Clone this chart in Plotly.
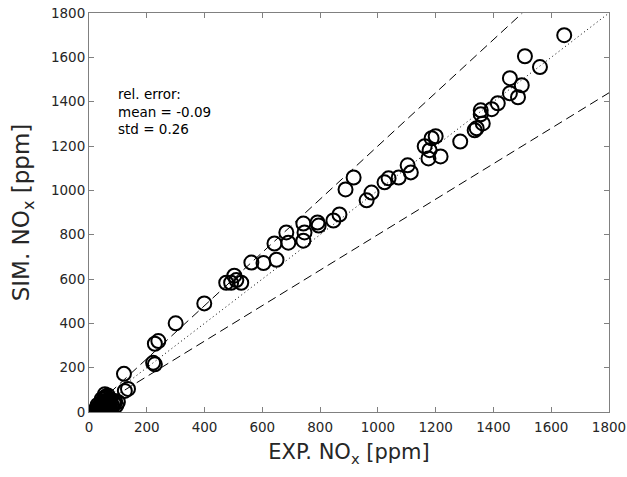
import plotly.graph_objects as go

exp_nox = [1645, 1509, 1561, 1457, 1498, 1457, 1485, 1415, 1394, 1356, 1356, 1363, 1342, 1335,
           1285, 1200, 1186, 1162, 1179, 1175, 1217, 1103, 1114, 1072, 1037, 1023, 978, 961,
           916, 888, 867, 846, 791, 795, 742, 746, 742, 683, 690, 642, 649, 604, 562, 527,
           503, 475, 492, 510, 399, 300, 240, 228, 222, 228, 121, 135, 124,
           30, 35, 40, 45, 50, 55, 60, 55, 60, 65, 50, 45, 70, 75, 80, 85, 90, 100, 65, 40, 25, 55, 60, 95,
           35, 42, 48, 52, 58, 62, 68, 72, 38, 46, 54, 66, 78, 88, 30, 44, 57, 63]
sim_nox = [1700, 1605, 1556, 1506, 1474, 1438, 1420, 1393, 1366, 1361, 1343, 1302, 1280, 1271,
           1220, 1244, 1235, 1199, 1181, 1144, 1153, 1113, 1081, 1058, 1054, 1036, 990, 955,
           1058, 1004, 891, 864, 855, 841, 850, 810, 773, 810, 764, 760, 687, 672, 674, 583,
           615, 583, 583, 595, 490, 400, 320, 308, 222, 215, 172, 104, 95,
           20, 15, 25, 30, 20, 40, 50, 60, 70, 75, 10, 5, 40, 55, 30, 45, 50, 45, 25, 35, 15, 80, 65, 30,
           28, 18, 35, 12, 45, 30, 55, 20, 8, 48, 65, 42, 18, 38, 32, 58, 22, 10]

ref_x = [0, 1800]
ref_one = [0, 1800]
upper_x = [0, 1500]
upper_y = [0, 1800]
lower_x = [0, 1800]
lower_y = [0, 1440]

tick_vals = [0, 200, 400, 600, 800, 1000, 1200, 1400, 1600, 1800]

FONT = "DejaVu Sans"

fig = go.Figure()
fig.add_trace(go.Scatter(x=ref_x, y=ref_one, mode="lines",
                         line=dict(color="black", width=1, dash="1px,3px"), hoverinfo="skip"))
fig.add_trace(go.Scatter(x=upper_x, y=upper_y, mode="lines",
                         line=dict(color="black", width=1, dash="9px,5px"), hoverinfo="skip"))
fig.add_trace(go.Scatter(x=lower_x, y=lower_y, mode="lines",
                         line=dict(color="black", width=1, dash="9px,5px"), hoverinfo="skip"))
fig.add_trace(go.Scatter(x=exp_nox, y=sim_nox, mode="markers",
                         marker=dict(symbol="circle-open", size=14, color="black",
                                     line=dict(width=2, color="black"))))

axis_common = dict(range=[0, 1800], tickvals=tick_vals, ticks="inside", ticklen=5,
                   tickcolor="#808080", showline=True, linecolor="#808080", linewidth=1,
                   mirror="ticks", showgrid=False, zeroline=False, automargin=False,
                   tickfont=dict(family=FONT, size=13.5, color="#262626"))

fig.update_xaxes(**axis_common, ticklabelstandoff=3,
                 title=dict(text="EXP. NO<sub>x</sub> [ppm]", standoff=10,
                            font=dict(family=FONT, size=21, color="#262626")))
fig.update_yaxes(**axis_common,
                 title=dict(text="SIM. NO<sub>x</sub> [ppm]", standoff=14,
                            font=dict(family=FONT, size=23, color="#262626")))

fig.add_annotation(x=0.052, y=0.822, xref="paper", yref="paper", xanchor="left", yanchor="top",
                   text="rel. error:<br>mean = -0.09<br>std = 0.26", showarrow=False, align="left",
                   font=dict(family=FONT, size=13.5, color="black"))

fig.update_layout(width=627, height=477, showlegend=False,
                  margin=dict(l=89, r=18, t=13, b=65),
                  plot_bgcolor="white", paper_bgcolor="white")

fig.write_html("out.html", config={"displayModeBar": False},
               post_script="document.body.style.margin='0';")
